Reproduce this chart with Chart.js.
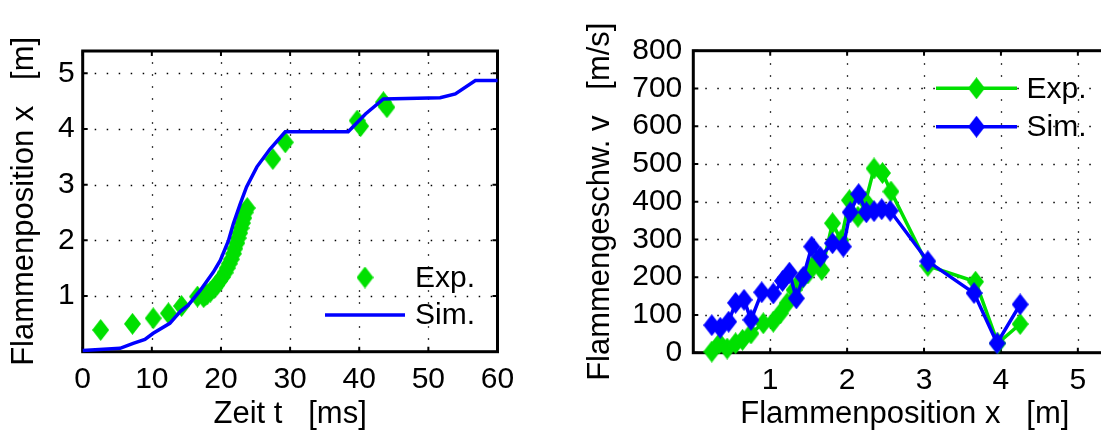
<!DOCTYPE html>
<html lang="de">
<head>
<meta charset="UTF-8">
<title>Flammenposition und Flammengeschwindigkeit</title>
<script src="https://cdn.jsdelivr.net/npm/chart.js"></script>
<style>
  html, body { margin: 0; padding: 0; background: #fff; overflow: hidden; width: 1101px; height: 430px; }
  #left { position: absolute; left: 0; top: 0; }
  #right { position: absolute; left: 560px; top: 0; }
</style>
</head>
<body>
<canvas id="left" width="560" height="430"></canvas>
<canvas id="right" width="600" height="430"></canvas>
<script>
// left plot: flame position over time
const zeitExp = [2.6, 7.2, 10.2, 12.4, 14.3, 16.6, 17.5, 17.8, 18.0, 18.5, 19.0, 19.4, 19.8, 20.2, 20.6, 20.9,
                 21.2, 21.5, 21.8, 22.0, 22.3, 22.5, 22.7, 22.9, 23.1, 23.3, 23.5, 23.8, 27.5, 29.3, 39.7, 40.2, 43.5, 44.0];
const posExp  = [0.39, 0.50, 0.60, 0.69, 0.82, 0.99, 0.98, 1.02, 1.03, 1.08, 1.14, 1.20, 1.27, 1.34, 1.42, 1.50,
                 1.58, 1.66, 1.76, 1.85, 1.95, 2.04, 2.13, 2.22, 2.31, 2.40, 2.50, 2.58, 3.46, 3.76, 4.15, 4.05, 4.48, 4.39];
const zeitSim = [0, 5.4, 7.3, 9.0, 10.2, 12.6, 14.1, 15.3, 17.0, 18.9, 19.9, 21.1, 21.8, 22.8, 23.7, 25.2, 27.1,
                 29.3, 38.4, 40.9, 43.5, 51.7, 53.9, 56.8, 60];
const posSim  = [0.02, 0.06, 0.15, 0.22, 0.33, 0.51, 0.72, 0.84, 1.10, 1.43, 1.64, 2.00, 2.30, 2.66, 2.96, 3.32, 3.64,
                 3.95, 3.95, 4.27, 4.54, 4.56, 4.63, 4.87, 4.87];
const zeitTicks = [0, 10, 20, 30, 40, 50, 60];
const posTicks = [1, 2, 3, 4, 5];

// right plot: flame speed over flame position
const xExp = [0.24, 0.34, 0.44, 0.55, 0.64, 0.75, 0.91, 1.04, 1.13, 1.22, 1.31, 1.40, 1.49, 1.58, 1.67, 1.81,
              1.92, 2.03, 2.14, 2.24, 2.35, 2.46, 2.57, 3.05, 3.67, 3.96, 4.25];
const vExp = [3, 25, 11, 25, 34, 51, 78, 82, 104, 131, 166, 192, 210, 237, 219, 343,
              298, 404, 360, 400, 488, 476, 427, 230, 188, 25, 76];
const xSim = [0.24, 0.35, 0.46, 0.55, 0.66, 0.75, 0.89, 1.04, 1.16, 1.25, 1.34, 1.43, 1.54, 1.65, 1.81, 1.95,
              2.04, 2.15, 2.25, 2.35, 2.45, 2.56, 3.05, 3.65, 3.95, 4.25];
const vSim = [73, 66, 82, 132, 140, 87, 160, 157, 190, 212, 144, 201, 281, 254, 290, 281,
              372, 420, 372, 375, 380, 376, 242, 158, 25, 128];
const xTicks = [1, 2, 3, 4, 5];
const vTicks = [0, 100, 200, 300, 400, 500, 600, 700, 800];

const GREEN = '#00e000';
const BLUE = '#0000ff';
const FONT = '"Liberation Sans", Arial, Helvetica, sans-serif';

// MATLAB style diamond, a bit taller than wide
function diamond(color) {
    const c = document.createElement('canvas');
    c.width = 17; c.height = 22;
    const g = c.getContext('2d');
    g.fillStyle = color;
    g.beginPath();
    g.moveTo(8.5, 0); g.lineTo(17, 11); g.lineTo(8.5, 22); g.lineTo(0, 11);
    g.closePath();
    g.fill();
    return c;
}

// dotted grid, thick box and inward ticks
const matlabAxes = {
    id: 'matlabAxes',
    beforeDatasetsDraw(chart) {
        const { ctx, chartArea: a, scales: { x, y } } = chart;
        ctx.save();
        ctx.strokeStyle = '#000';
        ctx.lineWidth = 1.3;
        ctx.setLineDash([1.5, 10.5]);
        x.ticks.forEach(t => {
            const px = Math.round(x.getPixelForValue(t.value)) + 0.5;
            if (px < a.left + 3 || px > a.right - 3) return;
            ctx.beginPath(); ctx.moveTo(px, a.bottom); ctx.lineTo(px, a.top); ctx.stroke();
        });
        y.ticks.forEach(t => {
            const py = Math.round(y.getPixelForValue(t.value)) + 0.5;
            if (py < a.top + 3 || py > a.bottom - 3) return;
            ctx.beginPath(); ctx.moveTo(a.left, py); ctx.lineTo(a.right, py); ctx.stroke();
        });
        ctx.setLineDash([]);
        ctx.lineWidth = 2;
        x.ticks.forEach(t => {
            const px = x.getPixelForValue(t.value);
            ctx.beginPath();
            ctx.moveTo(px, a.bottom); ctx.lineTo(px, a.bottom - 5);
            ctx.moveTo(px, a.top); ctx.lineTo(px, a.top + 5);
            ctx.stroke();
        });
        y.ticks.forEach(t => {
            const py = y.getPixelForValue(t.value);
            ctx.beginPath();
            ctx.moveTo(a.left, py); ctx.lineTo(a.left + 5, py);
            ctx.moveTo(a.right, py); ctx.lineTo(a.right - 5, py);
            ctx.stroke();
        });
        ctx.lineWidth = 3;
        ctx.strokeRect(a.left, a.top, a.right - a.left, a.bottom - a.top);
        ctx.restore();
    }
};

// legend without box, placed inside the axes
const boxlessLegend = {
    id: 'boxlessLegend',
    afterDraw(chart, args, opts) {
        const { ctx, chartArea: a } = chart;
        ctx.save();
        ctx.font = '30px ' + FONT;
        ctx.textBaseline = 'middle';
        ctx.textAlign = 'left';
        chart.data.datasets.forEach((ds, i) => {
            const y = a.top + opts.rows[i];
            const x0 = a.left + opts.x0, x1 = a.left + opts.x1;
            if (ds.showLine !== false) {
                ctx.strokeStyle = ds.borderColor;
                ctx.lineWidth = ds.borderWidth;
                ctx.beginPath(); ctx.moveTo(x0, y); ctx.lineTo(x1, y); ctx.stroke();
            }
            if (ds.pointRadius > 0) {
                const img = ds.pointStyle;
                ctx.drawImage(img, (x0 + x1) / 2 - img.width / 2, y - img.height / 2);
            }
            ctx.fillStyle = '#000';
            ctx.fillText(ds.label, a.left + opts.tx, y + 1);
        });
        ctx.restore();
    }
};

function axisOpts(min, max, tickList, title, size, pad, titlePad) {
    return {
        type: 'linear', min: min, max: max,
        afterBuildTicks: s => { s.ticks = tickList.map(v => ({ value: v })); },
        grid: { display: false, drawTicks: false },
        border: { display: false },
        ticks: { font: { family: FONT, size: 30 }, color: '#000', padding: pad, maxRotation: 0, autoSkip: false },
        title: { display: true, text: title, color: '#000', font: { family: FONT, size: 31, lineHeight: 1 }, padding: titlePad },
        afterFit: s => {
            if (s.isHorizontal()) s.height = size; else s.width = size;
            s.paddingLeft = s.paddingRight = s.paddingTop = s.paddingBottom = 0;
        }
    };
}

const base = {
    responsive: false,
    animation: false,
    events: [],
    plugins: { legend: { display: false }, tooltip: { enabled: false } }
};

new Chart(document.getElementById('left'), {
    type: 'line',
    data: {
        datasets: [{
            label: 'Exp.',
            data: zeitExp.map((t, i) => ({ x: t, y: posExp[i] })),
            showLine: false,
            pointStyle: diamond(GREEN),
            pointRadius: 9,
            borderColor: GREEN,
            clip: false,
            order: 2
        }, {
            label: 'Sim.',
            data: zeitSim.map((t, i) => ({ x: t, y: posSim[i] })),
            borderColor: BLUE,
            borderWidth: 3.5,
            pointRadius: 0,
            tension: 0,
            clip: false,
            order: 1
        }]
    },
    options: Object.assign({}, base, {
        layout: { padding: { left: 0, right: 62.5, top: 51, bottom: 0 } },
        scales: {
            x: axisOpts(0, 60, zeitTicks, 'Zeit t   [ms]', 78.3, 10, { bottom: 0 }),
            y: axisOpts(0, 5.4, posTicks, 'Flammenposition x   [m]', 82.7, 8, { top: 9 })
        },
        plugins: Object.assign({}, base.plugins, {
            boxlessLegend: { x0: 242.3, x1: 322.3, tx: 332.3, rows: [226.5, 264] }
        })
    }),
    plugins: [matlabAxes, boxlessLegend]
});

new Chart(document.getElementById('right'), {
    type: 'line',
    data: {
        datasets: [{
            label: 'Exp.',
            data: xExp.map((x, i) => ({ x: x, y: vExp[i] })),
            borderColor: GREEN,
            borderWidth: 3.5,
            pointStyle: diamond(GREEN),
            pointRadius: 9,
            tension: 0,
            clip: false,
            order: 2
        }, {
            label: 'Sim.',
            data: xSim.map((x, i) => ({ x: x, y: vSim[i] })),
            borderColor: BLUE,
            borderWidth: 3.5,
            pointStyle: diamond(BLUE),
            pointRadius: 9,
            tension: 0,
            clip: false,
            order: 1
        }]
    },
    options: Object.assign({}, base, {
        layout: { padding: { left: 0, right: 43.7, top: 50.7, bottom: 0 } },
        scales: {
            x: axisOpts(0, 5.5, xTicks, 'Flammenposition x   [m]', 77.3, 10, { bottom: 0 }),
            y: axisOpts(0, 800, vTicks, 'Flammengeschw. v   [m/s]', 133.3, 11, { top: 25 })
        },
        plugins: Object.assign({}, base.plugins, {
            boxlessLegend: { x0: 242.7, x1: 323.7, tx: 333.2, rows: [37.6, 76] }
        })
    }),
    plugins: [matlabAxes, boxlessLegend]
});
</script>
</body>
</html>
